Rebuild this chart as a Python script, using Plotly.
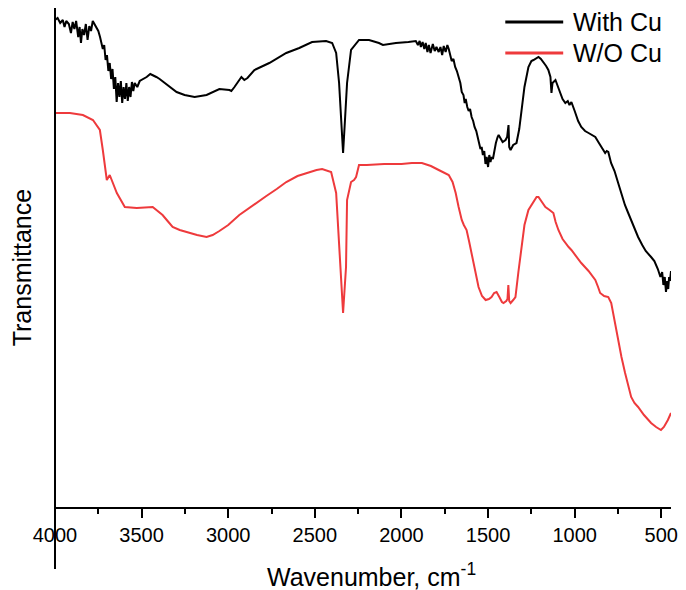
import plotly.graph_objects as go

# With Cu (black) spectrum: wavenumber (cm-1) and transmittance (arb. units)
wn_cu = [4000, 3985, 3970, 3955, 3945, 3935, 3920, 3908, 3898, 3888, 3878, 3866, 3858, 3850,
         3842, 3832, 3822, 3812, 3802, 3792, 3782, 3772, 3760, 3750, 3740, 3732, 3724, 3716,
         3708, 3700, 3692, 3684, 3676, 3668, 3660, 3652, 3644, 3636, 3628, 3620, 3612, 3604,
         3596, 3588, 3580, 3572, 3564, 3556, 3548, 3540, 3525, 3511, 3490, 3471, 3450, 3436,
         3415, 3396, 3356, 3298, 3252, 3194, 3125, 3051, 2993, 2982, 2964, 2924, 2907, 2889,
         2849, 2763, 2665, 2590, 2516, 2435, 2400, 2377, 2360, 2349, 2337, 2326, 2314, 2291,
         2262, 2245, 2187, 2130, 2107, 2032, 1960, 1917, 1905, 1895, 1888, 1878, 1868, 1860,
         1850, 1842, 1832, 1819, 1808, 1798, 1785, 1775, 1765, 1756, 1745, 1735, 1727, 1718,
         1710, 1700, 1690, 1680, 1670, 1660, 1652, 1642, 1635, 1629, 1620, 1612, 1604, 1595,
         1586, 1578, 1568, 1560, 1552, 1544, 1537, 1530, 1522, 1515, 1508, 1500, 1493, 1486,
         1480, 1472, 1465, 1455, 1445, 1439, 1416, 1399, 1390, 1382, 1378, 1370, 1355, 1336,
         1320, 1307, 1290, 1267, 1250, 1238, 1220, 1209, 1195, 1180, 1165, 1152, 1140, 1134,
         1128, 1111, 1090, 1070, 1054, 1040, 1030, 1019, 1000, 980, 962, 940, 920, 900,
         881, 860, 840, 824, 815, 806, 790, 770, 749, 730, 710, 691, 670, 650,
         634, 610, 590, 559, 540, 520, 505, 495, 488, 480, 473, 466, 460, 455,
         450, 444]
t_cu = [487, 489, 484, 487, 480, 486, 483, 474, 485, 478, 486, 470, 480, 464,
        478, 472, 483, 467, 481, 476, 486, 483, 480, 476, 470, 465, 458, 462,
        447, 452, 436, 444, 428, 438, 418, 430, 405, 424, 410, 426, 404, 420,
        408, 424, 406, 420, 410, 425, 416, 424, 420, 426, 428, 430, 433, 432,
        430, 428, 423, 415, 412, 410, 412, 418, 417, 416, 420, 430, 427, 429,
        437, 444, 454, 459, 465, 466, 464, 454, 424, 387, 354, 387, 424, 457,
        464, 467, 467, 464, 462, 464, 465, 466, 462, 466, 460, 465, 458, 464,
        455, 462, 454, 463, 456, 460, 455, 460, 452, 461, 455, 462, 458, 452,
        446, 448, 440, 436, 429, 424, 415, 412, 404, 408, 400, 396, 398, 390,
        386, 380, 376, 368, 364, 358, 360, 352, 356, 343, 350, 340, 352, 345,
        350, 348, 356, 364, 370, 372, 365, 367, 370, 382, 360, 357, 362, 364,
        378, 394, 420, 440, 446, 447, 449, 450, 448, 445, 441, 437, 430, 414,
        424, 427, 418, 408, 404, 406, 402, 405, 396, 386, 380, 376, 374, 372,
        370, 364, 358, 354, 356, 355, 344, 336, 324, 312, 302, 294, 285, 278,
        270, 262, 256, 250, 246, 238, 230, 235, 222, 230, 215, 226, 218, 230,
        226, 236]

# W/O Cu (red) spectrum
wn_nocu = [4000, 4000, 3914, 3839, 3781, 3741, 3724, 3701, 3684, 3643, 3597, 3528, 3436, 3379,
           3350, 3321, 3280, 3223, 3180, 3125, 3090, 3051, 3000, 2936, 2880, 2830, 2780, 2720,
           2665, 2600, 2533, 2490, 2458, 2406, 2377, 2360, 2337, 2320, 2314, 2291, 2274, 2262,
           2245, 2200, 2100, 2000, 1940, 1882, 1830, 1785, 1750, 1727, 1705, 1687, 1670, 1652,
           1640, 1624, 1610, 1595, 1575, 1555, 1535, 1514, 1495, 1480, 1465, 1451, 1435, 1420,
           1411, 1395, 1388, 1383, 1378, 1370, 1355, 1342, 1325, 1307, 1290, 1267, 1240, 1220,
           1209, 1190, 1169, 1145, 1123, 1110, 1094, 1070, 1054, 1035, 1019, 990, 962, 920,
           881, 865, 853, 830, 806, 789, 770, 749, 730, 709, 690, 674, 655, 634,
           600, 559, 530, 502, 485, 470, 462, 444]
t_nocu = [2, 394, 394, 392, 387, 377, 357, 327, 332, 314, 300, 299, 300, 292,
          286, 280, 277, 274, 272, 270, 272, 276, 282, 292, 299, 305, 311, 318,
          325, 331, 335, 337, 338, 335, 314, 257, 194, 240, 307, 325, 327, 330,
          342, 342, 343, 343, 344, 344, 341, 337, 334, 332, 325, 314, 300, 287,
          282, 277, 266, 254, 237, 220, 211, 207, 208, 210, 214, 215, 210, 205,
          204, 206, 208, 222, 206, 204, 207, 210, 235, 260, 282, 297, 305, 310,
          310, 305, 300, 297, 294, 285, 277, 268, 264, 260, 257, 250, 244, 236,
          227, 220, 214, 211, 210, 204, 186, 167, 150, 134, 120, 110, 104, 100,
          92, 84, 80, 77, 80, 84, 87, 94]

x_ticks = [4000, 3500, 3000, 2500, 2000, 1500, 1000, 500]
x_range = [4000, 444]
y_range = [0, 499]

FONT = "Liberation Sans, Arial, sans-serif"
RED = "#ee3a3c"

fig = go.Figure()
fig.add_trace(go.Scatter(x=wn_cu, y=t_cu, mode="lines", name="With Cu",
                         line=dict(color="#000000", width=2), showlegend=False))
fig.add_trace(go.Scatter(x=wn_nocu, y=t_nocu, mode="lines", name="W/O Cu",
                         line=dict(color=RED, width=2), showlegend=False))

# manual legend
legend_items = [("With Cu", "#000000", 0.972), ("W/O Cu", RED, 0.910)]
for label, col, yy in legend_items:
    fig.add_shape(type="line", xref="paper", yref="paper", x0=0.731, x1=0.825, y0=yy, y1=yy,
                  line=dict(color=col, width=3))
    fig.add_annotation(xref="paper", yref="paper", x=0.838, y=yy, text=label, showarrow=False,
                       xanchor="left", yanchor="middle", font=dict(family=FONT, size=25, color="#000"))

# axis titles
fig.add_annotation(xref="paper", yref="paper", x=0.513, y=-0.136, text="Wavenumber, cm<sup>-1</sup>",
                   showarrow=False, xanchor="center", yanchor="middle",
                   font=dict(family=FONT, size=25, color="#000"))
fig.add_annotation(xref="paper", yref="paper", x=-0.053, y=0.479, text="Transmittance",
                   textangle=-90, showarrow=False, xanchor="center", yanchor="middle",
                   font=dict(family=FONT, size=25, color="#000"))

# y-axis line extended below x-axis
fig.add_shape(type="line", xref="paper", yref="paper", x0=0, x1=0, y0=-0.124, y1=1,
              line=dict(color="#000", width=2))

fig.update_layout(
    width=686, height=590,
    margin=dict(l=55, r=13, t=8, b=83),
    plot_bgcolor="white", paper_bgcolor="white",
    font=dict(family=FONT, color="#000"),
    xaxis=dict(range=x_range, tickvals=x_ticks, showgrid=False, zeroline=False,
               showline=True, linecolor="#000", linewidth=2,
               ticks="outside", ticklen=9, tickwidth=2, tickcolor="#000",
               minor=dict(dtick=250, ticks="outside", ticklen=5, tickwidth=2, tickcolor="#000", showgrid=False),
               tickfont=dict(family=FONT, size=20)),
    yaxis=dict(range=y_range, showgrid=False, zeroline=False, showline=False,
               showticklabels=False, ticks=""),
)

fig.write_html("out.html")
